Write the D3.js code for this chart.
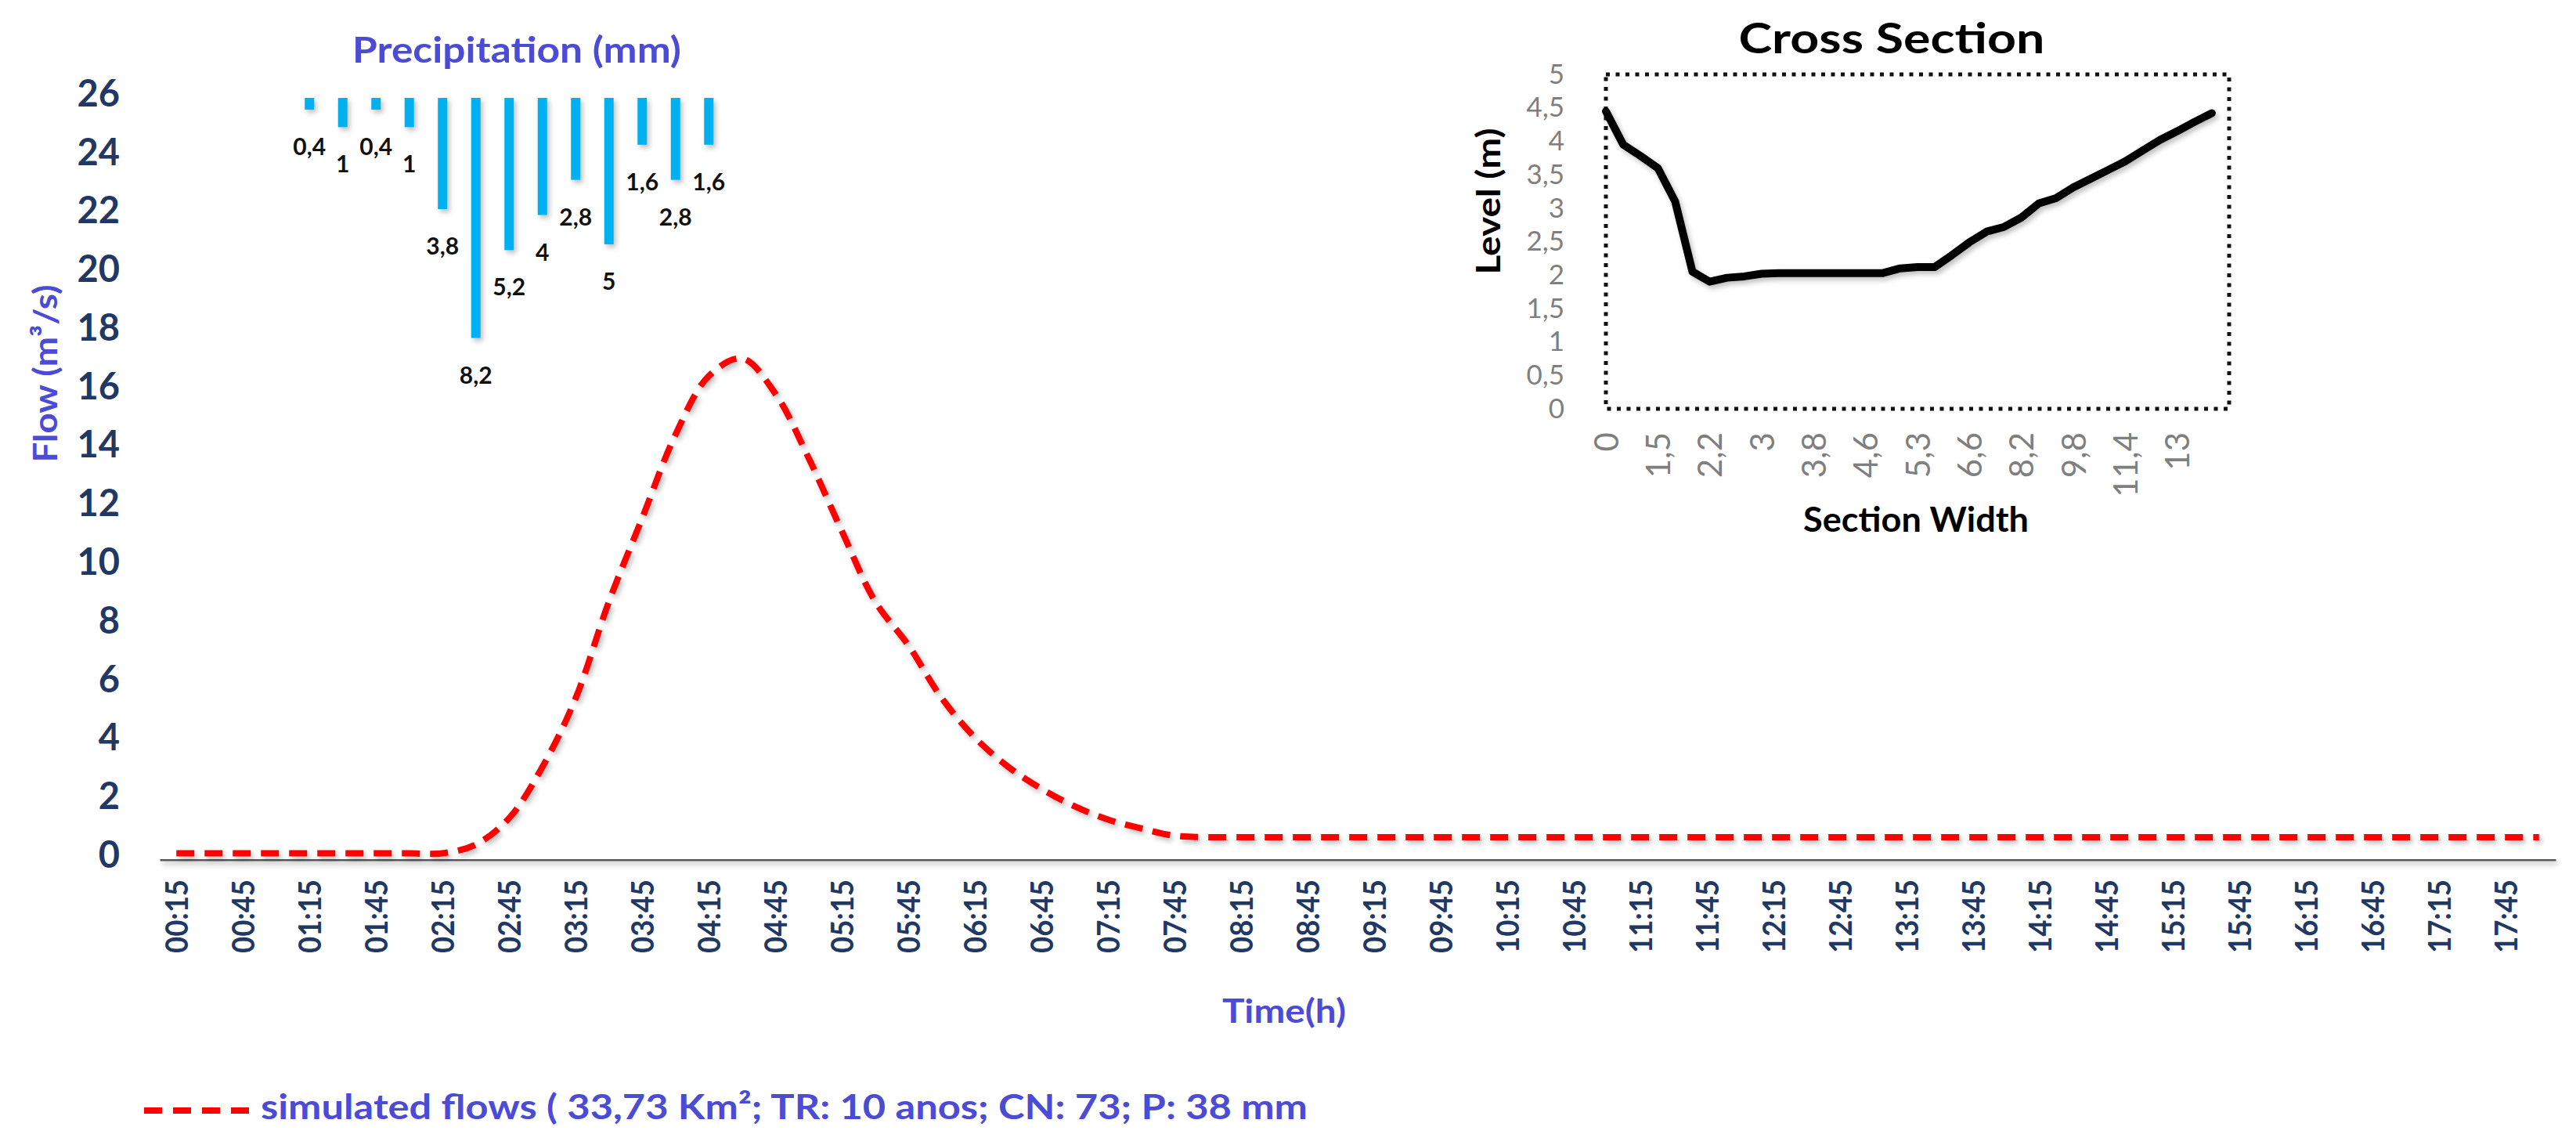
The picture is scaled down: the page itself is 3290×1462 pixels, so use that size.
<!DOCTYPE html>
<html>
<head>
<meta charset="utf-8">
<script src="https://cdn.jsdelivr.net/npm/d3@7"></script>
<style>
body { margin:0; background:#fff; }
text { font-family: Lato, "Open Sans", sans-serif; }
</style>
</head>
<body>
<svg id="chart" width="3290" height="1462"></svg>
<script>
// hydrograph, 15 min steps
var times = [
  "00:15","00:30","00:45","01:00","01:15","01:30","01:45","02:00","02:15","02:30","02:45","03:00",
  "03:15","03:30","03:45","04:00","04:15","04:30","04:45","05:00","05:15","05:30","05:45","06:00",
  "06:15","06:30","06:45","07:00","07:15","07:30","07:45","08:00","08:15","08:30","08:45","09:00",
  "09:15","09:30","09:45","10:00","10:15","10:30","10:45","11:00","11:15","11:30","11:45","12:00",
  "12:15","12:30","12:45","13:00","13:15","13:30","13:45","14:00","14:15","14:30","14:45","15:00",
  "15:15","15:30","15:45","16:00","16:15","16:30","16:45","17:00","17:15","17:30","17:45","18:00"];
var flow = [
  0.2,0.2,0.2,0.2,0.2,0.2,0.2,0.2,0.2,0.5,1.4,3.15,
  5.5,8.8,11.65,14.5,16.5,17.1,15.9,13.7,11.2,8.8,7.3,5.5,
  4.15,3.15,2.4,1.8,1.35,1.05,0.8,0.75,0.75,0.75,0.75,0.75,
  0.75,0.75,0.75,0.75,0.75,0.75,0.75,0.75,0.75,0.75,0.75,0.75,
  0.75,0.75,0.75,0.75,0.75,0.75,0.75,0.75,0.75,0.75,0.75,0.75,
  0.75,0.75,0.75,0.75,0.75,0.75,0.75,0.75,0.75,0.75,0.75,0.75];
var flowTicks = [0,2,4,6,8,10,12,14,16,18,20,22,24,26];

// precipitation (mm)
var rainTimes = ["01:15","01:30","01:45","02:00","02:15","02:30","02:45","03:00","03:15","03:30","03:45","04:00","04:15"];
var rain = [0.4,1,0.4,1,3.8,8.2,5.2,4,2.8,5,1.6,2.8,1.6];

// cross section
var levels = [
  4.45,3.95,3.78,3.6,3.1,2.05,1.9,1.96,1.98,2.02,2.03,2.03,
  2.03,2.03,2.03,2.03,2.03,2.1,2.12,2.12,2.3,2.49,2.65,2.72,
  2.86,3.07,3.15,3.31,3.44,3.57,3.7,3.86,4.02,4.15,4.29,4.42];
var widthLabels = ["0","1,5","2,2","3","3,8","4,6","5,3","6,6","8,2","9,8","11,4","13"];
var levelTicks = [0,0.5,1,1.5,2,2.5,3,3.5,4,4.5,5];

var comma = function(v){ return String(v).replace(".", ","); };

var navy = "#1F3864", blue = "#4B4BD6";

var svg = d3.select("#chart");

// soft drop shadow, user space so flat lines keep it too
svg.append("defs").append("filter").attr("id","shadow")
  .attr("filterUnits","userSpaceOnUse")
  .attr("x",0).attr("y",0).attr("width",3290).attr("height",1462)
  .append("feDropShadow")
  .attr("dx",3).attr("dy",4).attr("stdDeviation",3)
  .attr("flood-color","#000").attr("flood-opacity",0.25);

function fit(sel, len) {
  return sel.attr("textLength", len).attr("lengthAdjust", "spacingAndGlyphs");
}

// ---- main chart ----
var x = d3.scaleBand().domain(times).range([204, 3264]);
var y = d3.scaleLinear().domain([0, 26]).range([1097, 125]);
var yRain = d3.scaleLinear().domain([0, 26]).range([125, 1097]);
var half = x.bandwidth() / 2;

var yAxis = svg.append("g")
  .attr("transform", "translate(204,0)")
  .call(d3.axisLeft(y).tickValues(flowTicks).tickSize(0).tickPadding(51));
yAxis.select(".domain").remove();
yAxis.selectAll("text")
  .attr("dy", "0.22em")
  .style("font-size", "47px").style("font-weight", 700).style("fill", navy);

var xAxis = svg.append("g")
  .attr("transform", "translate(0,1097)")
  .call(d3.axisBottom(x)
    .tickValues(times.filter(function(d,i){ return i % 2 == 0; }))
    .tickSize(0));
xAxis.select(".domain")
  .attr("stroke", "#595959").attr("stroke-width", 4)
  .attr("filter", "url(#shadow)");
fit(xAxis.selectAll("text"), 94)
  .attr("transform", "rotate(-90)")
  .attr("text-anchor", "end")
  .attr("x", -26).attr("y", 0).attr("dy", "0.36em")
  .style("font-size", "41px").style("font-weight", 700).style("fill", navy);

// rain bars hanging from top
var bars = svg.append("g").selectAll(".bar")
  .data(rain)
  .enter()
  .append("g").attr("class", "bar");
bars.append("rect")
  .attr("x", function(d,i){ return x(rainTimes[i]) + half - 6; })
  .attr("y", yRain(0))
  .attr("width", 12)
  .attr("height", function(d){ return yRain(d) - yRain(0); })
  .attr("fill", "#00B0F0")
  .attr("filter", "url(#shadow)");
bars.append("text")
  .attr("x", function(d,i){ return x(rainTimes[i]) + half; })
  .attr("y", function(d){ return yRain(d) + 46; })
  .attr("text-anchor", "middle")
  .attr("dominant-baseline", "central")
  .style("font-size", "30px").style("font-weight", 700).style("fill", "#111")
  .text(function(d){ return comma(d); });

var line = d3.line()
  .x(function(d,i){ return x(times[i]) + half; })
  .y(function(d){ return y(d); })
  .curve(d3.curveCatmullRom);

svg.append("path")
  .datum(flow)
  .attr("d", line)
  .attr("fill", "none")
  .attr("stroke", "#FF0000")
  .attr("stroke-width", 8)
  .attr("stroke-dasharray", "23,13")
  .attr("filter", "url(#shadow)");

fit(svg.append("text"), 420)
  .attr("x", 660).attr("y", 80)
  .attr("text-anchor", "middle")
  .style("font-size", "46px").style("font-weight", 700).style("fill", blue)
  .text("Precipitation (mm)");

fit(svg.append("text"), 227)
  .attr("transform", "translate(57,477) rotate(-90)")
  .attr("text-anchor", "middle")
  .attr("dominant-baseline", "central")
  .style("font-size", "42px").style("font-weight", 700).style("fill", blue)
  .text("Flow (m³/s)");

fit(svg.append("text"), 158)
  .attr("x", 1640).attr("y", 1290)
  .attr("text-anchor", "middle")
  .attr("dominant-baseline", "central")
  .style("font-size", "42px").style("font-weight", 700).style("fill", blue)
  .text("Time(h)");

// legend
svg.append("line")
  .attr("x1", 184).attr("x2", 319).attr("y1", 1418).attr("y2", 1418)
  .attr("stroke", "#FF0000").attr("stroke-width", 8)
  .attr("stroke-dasharray", "23,14");
fit(svg.append("text"), 1337)
  .attr("x", 333).attr("y", 1412)
  .attr("dominant-baseline", "central")
  .style("font-size", "44px").style("font-weight", 700).style("fill", blue)
  .text("simulated flows ( 33,73 Km²; TR: 10 anos; CN: 73; P: 38 mm");

// ---- cross section inset ----
var cx = d3.scaleLinear().domain([0, 36]).range([2051, 2847]);
var cy = d3.scaleLinear().domain([0, 5]).range([522, 95]);

svg.append("rect")
  .attr("x", cx(0)).attr("y", cy(5))
  .attr("width", cx(36) - cx(0)).attr("height", cy(0) - cy(5))
  .attr("fill", "none").attr("stroke", "#111")
  .attr("stroke-width", 5).attr("stroke-dasharray", "5,7.5");

var cyAxis = svg.append("g")
  .attr("transform", "translate(" + cx(0) + ",0)")
  .call(d3.axisLeft(cy).tickValues(levelTicks).tickFormat(comma).tickSize(0).tickPadding(53));
cyAxis.select(".domain").remove();
cyAxis.selectAll("text")
  .style("font-size", "35px").style("fill", "#7F7F7F");

var cxAxis = svg.append("g")
  .attr("transform", "translate(0," + cy(0) + ")")
  .call(d3.axisBottom(cx)
    .tickValues(d3.range(0, 36, 3))
    .tickFormat(function(d){ return widthLabels[d / 3]; })
    .tickSize(0));
cxAxis.select(".domain").remove();
cxAxis.selectAll("text")
  .attr("transform", "rotate(-90)")
  .attr("text-anchor", "end")
  .attr("x", -30).attr("y", 0).attr("dy", "0.36em")
  .style("font-size", "42px").style("fill", "#7F7F7F");

svg.append("path")
  .datum(levels)
  .attr("d", d3.line()
    .x(function(d,i){ return cx(i); })
    .y(function(d){ return cy(d); }))
  .attr("fill", "none")
  .attr("stroke", "#000")
  .attr("stroke-width", 10)
  .attr("stroke-linejoin", "round")
  .attr("stroke-linecap", "round")
  .attr("filter", "url(#shadow)");

fit(svg.append("text"), 391)
  .attr("x", 2416).attr("y", 68)
  .attr("text-anchor", "middle")
  .style("font-size", "54px").style("font-weight", 700).style("fill", "#000")
  .text("Cross Section");

fit(svg.append("text"), 288)
  .attr("x", 2447).attr("y", 662)
  .attr("text-anchor", "middle")
  .attr("dominant-baseline", "central")
  .style("font-size", "44px").style("font-weight", 700).style("fill", "#000")
  .text("Section Width");

fit(svg.append("text"), 187)
  .attr("transform", "translate(1900,257) rotate(-90)")
  .attr("text-anchor", "middle")
  .attr("dominant-baseline", "central")
  .style("font-size", "42px").style("font-weight", 700).style("fill", "#000")
  .text("Level (m)");
</script>
</body>
</html>
